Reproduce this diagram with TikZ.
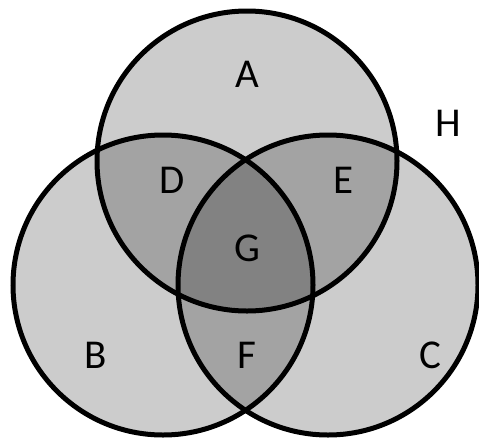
\documentclass[tikz,border=0pt]{standalone}
\usepackage{fontspec}
\setmainfont{Carlito}
\usetikzlibrary{positioning}

\begin{document}
\begin{tikzpicture}[x=1pt, y=-1pt,
    every node/.style = {inner sep=0pt, font=\fontsize{41}{49}\selectfont},
    venn/.style = {circle, draw, line width=5pt, fill=black, fill opacity=0.2,
                   text opacity=1, minimum size=300pt}]
    \useasboundingbox (0,0) rectangle (479,437);
    \node[venn] (A) at (247, 161) {};
    \node[venn] (B) at (163, 285) {};
    \node[venn] (C) at (328, 285) {};
    \node (a) at (247, 74) {A};
    \node (d) at (172, 180) {D};
    \node (e) [right = 148pt of d] {E};
    \node (g) at (247, 248) {G};
    \node (b) at (96, 355) {B};
    \node (f) at (247, 355) {F};
    \node (c) at (430, 355) {C};
    \node (h) at (448, 123) {H};
\end{tikzpicture}
\end{document}
